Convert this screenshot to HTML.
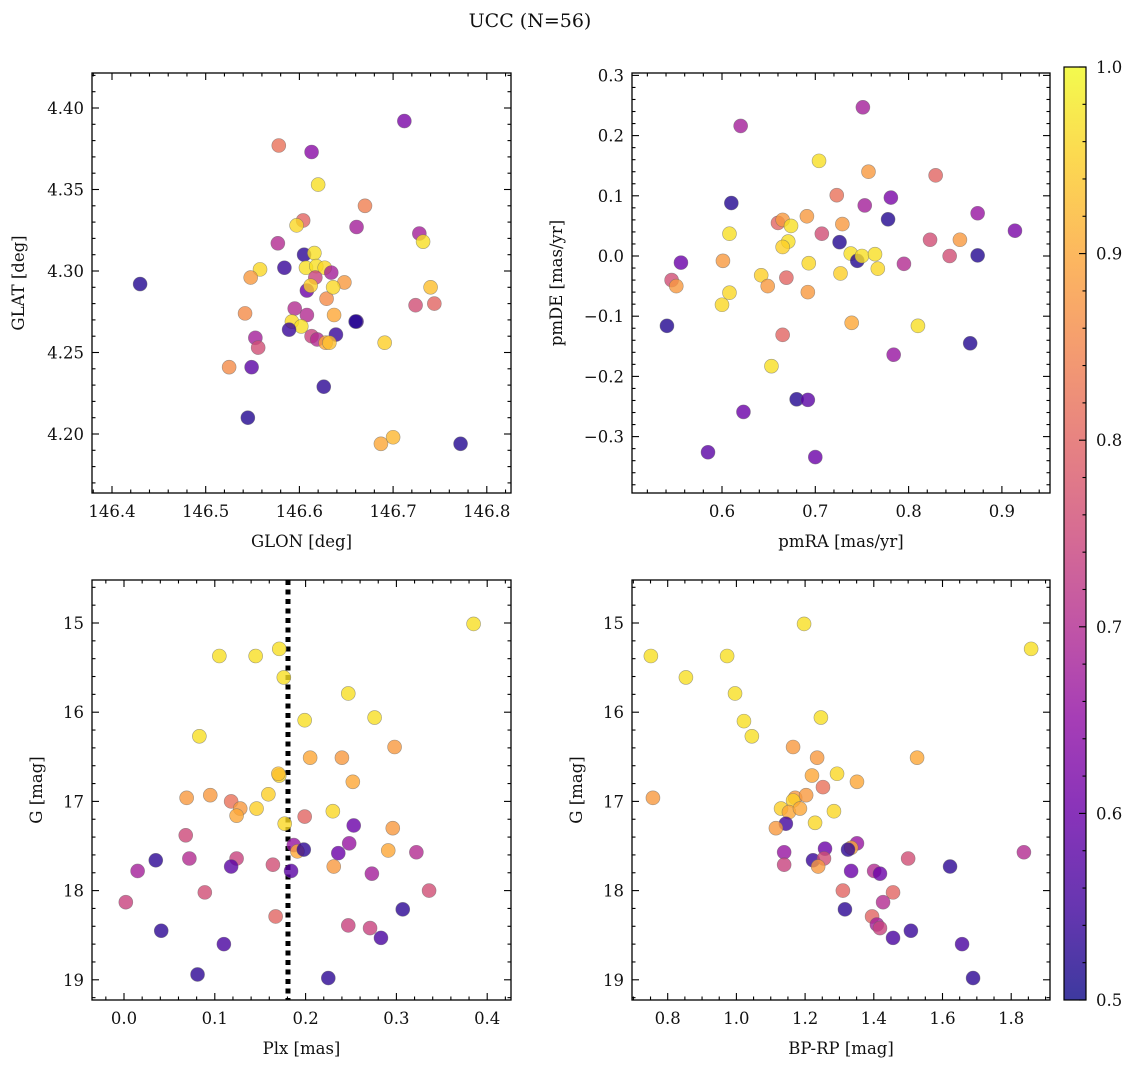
<!DOCTYPE html>
<html><head><meta charset="utf-8"><style>
body{margin:0;background:#fff;}
svg text{font-family:"DejaVu Serif","Liberation Serif",serif;fill:#111;}
</style></head><body>
<svg id="fig" width="1136" height="1067" viewBox="0 0 1136 1067" xmlns="http://www.w3.org/2000/svg">
<defs>
<linearGradient id="plasma" x1="0" y1="1" x2="0" y2="0">
<stop offset="0" stop-color="#0d0887"/><stop offset="0.1" stop-color="#41049d"/><stop offset="0.2" stop-color="#6a00a8"/><stop offset="0.3" stop-color="#8f0da4"/><stop offset="0.4" stop-color="#b12a90"/><stop offset="0.5" stop-color="#cc4778"/><stop offset="0.6" stop-color="#e16462"/><stop offset="0.7" stop-color="#f2844b"/><stop offset="0.8" stop-color="#fca636"/><stop offset="0.9" stop-color="#fcce25"/><stop offset="1" stop-color="#f0f921"/>
</linearGradient>
</defs>
<text x="530" y="27" font-size="19" text-anchor="middle">UCC (N=56)</text>
</svg>
<script>
// ---- Panel 1: GLON vs GLAT ----
const glon = [146.430,146.712,146.578,146.613,146.620,146.670,146.604,146.661,146.597,146.728,146.732,146.577,146.605,146.616,146.584,146.558,146.548,146.607,146.618,146.627,146.634,146.617,146.648,146.740,146.608,146.629,146.612,146.636,146.724,146.744,146.595,146.542,146.637,146.608,146.592,146.602,146.589,146.661,146.553,146.613,146.619,146.639,146.628,146.556,146.632,146.691,146.525,146.549,146.660,146.626,146.545,146.687,146.700,146.772];
const glat = [4.292,4.392,4.377,4.373,4.353,4.340,4.331,4.327,4.328,4.323,4.318,4.317,4.310,4.311,4.302,4.301,4.296,4.302,4.303,4.302,4.299,4.296,4.293,4.290,4.288,4.283,4.291,4.290,4.279,4.280,4.277,4.274,4.273,4.273,4.269,4.266,4.264,4.269,4.259,4.260,4.258,4.261,4.256,4.253,4.256,4.256,4.241,4.241,4.269,4.229,4.210,4.194,4.198,4.194];
const c1 = [0.52,0.62,0.82,0.64,0.97,0.84,0.8,0.68,0.96,0.68,0.97,0.7,0.53,0.97,0.54,0.96,0.88,0.97,0.97,0.96,0.68,0.74,0.88,0.93,0.6,0.86,0.95,0.96,0.76,0.8,0.7,0.86,0.9,0.7,0.96,0.97,0.54,0.55,0.68,0.74,0.7,0.54,0.9,0.76,0.93,0.95,0.86,0.58,0.52,0.53,0.52,0.9,0.92,0.52];
// ---- Panel 2: pmRA vs pmDE ----
const pmra = [0.751,0.620,0.704,0.757,0.829,0.723,0.781,0.610,0.753,0.778,0.874,0.914,0.691,0.660,0.665,0.674,0.729,0.608,0.707,0.726,0.671,0.665,0.823,0.855,0.738,0.745,0.750,0.764,0.844,0.874,0.556,0.601,0.693,0.795,0.767,0.727,0.642,0.669,0.546,0.551,0.649,0.608,0.692,0.600,0.739,0.810,0.541,0.665,0.866,0.784,0.653,0.680,0.692,0.623,0.585,0.700];
const pmde = [0.247,0.216,0.158,0.140,0.134,0.101,0.097,0.088,0.084,0.061,0.071,0.042,0.066,0.055,0.060,0.050,0.053,0.037,0.037,0.023,0.024,0.015,0.027,0.027,0.004,-0.008,0.0,0.003,0.0,0.001,-0.011,-0.008,-0.012,-0.013,-0.021,-0.029,-0.032,-0.036,-0.040,-0.050,-0.050,-0.061,-0.060,-0.081,-0.111,-0.116,-0.116,-0.131,-0.145,-0.164,-0.183,-0.238,-0.239,-0.259,-0.326,-0.334];
const c2 = [0.68,0.68,0.97,0.88,0.8,0.82,0.62,0.52,0.68,0.52,0.66,0.62,0.88,0.8,0.88,0.97,0.88,0.97,0.76,0.52,0.97,0.95,0.76,0.88,0.97,0.52,0.97,0.97,0.76,0.52,0.6,0.88,0.96,0.7,0.96,0.95,0.95,0.8,0.76,0.88,0.88,0.96,0.88,0.96,0.9,0.97,0.52,0.8,0.52,0.66,0.97,0.52,0.58,0.6,0.58,0.6];
// ---- Panel 3: Plx vs G ----
const plx = [0.385,0.105,0.145,0.171,0.176,0.247,0.276,0.199,0.083,0.298,0.240,0.205,0.171,0.170,0.252,0.069,0.095,0.118,0.199,0.159,0.146,0.128,0.124,0.230,0.177,0.253,0.296,0.068,0.187,0.191,0.198,0.248,0.291,0.322,0.236,0.124,0.072,0.035,0.118,0.164,0.231,0.015,0.184,0.273,0.089,0.336,0.002,0.307,0.167,0.247,0.271,0.041,0.283,0.110,0.081,0.225];
const g3 = [15.01,15.37,15.37,15.29,15.61,15.79,16.06,16.09,16.27,16.39,16.51,16.51,16.71,16.69,16.78,16.96,16.93,17.0,17.17,16.92,17.08,17.08,17.16,17.11,17.25,17.27,17.30,17.38,17.49,17.56,17.54,17.47,17.55,17.57,17.58,17.64,17.64,17.66,17.73,17.71,17.73,17.78,17.78,17.81,18.02,18.0,18.13,18.21,18.29,18.39,18.42,18.45,18.53,18.6,18.94,18.98];
const c3 = [0.97,0.97,0.97,0.97,0.97,0.97,0.97,0.97,0.97,0.88,0.88,0.9,0.96,0.93,0.9,0.88,0.88,0.82,0.8,0.95,0.95,0.88,0.9,0.96,0.96,0.6,0.88,0.75,0.66,0.9,0.53,0.66,0.9,0.7,0.6,0.74,0.7,0.53,0.58,0.76,0.88,0.68,0.58,0.68,0.76,0.76,0.74,0.53,0.8,0.74,0.74,0.53,0.56,0.56,0.53,0.53];
const plxLine = 0.1806;
// ---- Panel 4: BP-RP vs G ----
const bprp = [0.751,0.853,0.973,1.197,1.858,0.996,1.022,1.045,1.246,1.165,1.235,1.526,1.220,1.293,1.351,0.757,1.171,1.203,1.252,1.165,1.130,1.153,1.185,1.284,1.229,1.144,1.115,1.351,1.334,1.325,1.139,1.258,1.837,1.223,1.255,1.500,1.139,1.238,1.622,1.334,1.401,1.418,1.310,1.456,1.427,1.316,1.395,1.409,1.418,1.508,1.456,1.657,1.689];
const g4 = [15.37,15.61,15.37,15.01,15.29,15.79,16.10,16.27,16.06,16.39,16.51,16.51,16.71,16.69,16.78,16.96,16.96,16.93,16.84,16.99,17.08,17.12,17.08,17.11,17.24,17.25,17.30,17.47,17.52,17.54,17.57,17.53,17.57,17.66,17.64,17.64,17.71,17.73,17.73,17.78,17.78,17.81,18.0,18.02,18.13,18.21,18.29,18.38,18.42,18.45,18.53,18.6,18.98];
const c4 = [0.97,0.97,0.97,0.97,0.97,0.97,0.97,0.97,0.97,0.88,0.88,0.9,0.9,0.96,0.9,0.88,0.88,0.88,0.82,0.95,0.95,0.9,0.9,0.96,0.96,0.55,0.88,0.66,0.9,0.53,0.66,0.6,0.7,0.54,0.76,0.76,0.74,0.88,0.53,0.6,0.7,0.6,0.8,0.8,0.7,0.53,0.8,0.68,0.74,0.54,0.56,0.56,0.53];
const cbTicks = [0.5,0.6,0.7,0.8,0.9,1.0];

const NS='http://www.w3.org/2000/svg';
const svg=document.getElementById('fig');
function mk(tag,attrs,parent){const e=document.createElementNS(NS,tag);for(const k in attrs)e.setAttribute(k,attrs[k]);(parent||svg).appendChild(e);return e;}
const stops=[[0,[13,8,135]],[0.1,[65,4,157]],[0.2,[106,0,168]],[0.3,[143,13,164]],[0.4,[177,42,144]],[0.5,[204,71,120]],[0.6,[225,100,98]],[0.7,[242,132,75]],[0.8,[252,166,54]],[0.9,[252,206,37]],[1,[240,249,33]]];
function plasma(v){let t=Math.max(0,Math.min(1,(v-0.5)/0.5));for(let i=1;i<stops.length;i++){if(t<=stops[i][0]){const a=stops[i-1],b=stops[i];const f=(t-a[0])/(b[0]-a[0]);const c=a[1].map((x,j)=>Math.round(x+(b[1][j]-x)*f));return `rgb(${c[0]},${c[1]},${c[2]})`;}}return 'rgb(240,249,33)';}
function fmt(v,d){const s=Math.abs(v).toFixed(d);return (v< -1e-9?'\u2212':'')+s;}

function panel(o){
  const g=mk('g',{});
  
  
  const X=v=>o.x0+(v-o.xmin)/(o.xmax-o.xmin)*(o.x1-o.x0);
  const Y=v=>o.yinv? o.y0+(v-o.ymin)/(o.ymax-o.ymin)*(o.y1-o.y0) : o.y1-(v-o.ymin)/(o.ymax-o.ymin)*(o.y1-o.y0);
  if(o.vline!==undefined){
    const l=mk('line',{x1:X(o.vline),x2:X(o.vline),y1:o.y0,y2:o.y1,stroke:'#000','stroke-width':5,'stroke-dasharray':'5,4.5'},g);
    
    
  }
  for(let i=0;i<o.xs.length;i++){
    const cc=o.cs[i]!==undefined?o.cs[i]:0.8;
    const p=mk('circle',{cx:X(o.xs[i]),cy:Y(o.ys[i]),r:7,fill:plasma(cc),'fill-opacity':0.8,stroke:'#666','stroke-opacity':0.6,'stroke-width':0.6},g);
    
    
  }
  mk('rect',{x:o.x0,y:o.y0,width:o.x1-o.x0,height:o.y1-o.y0,fill:'none',stroke:'#000','stroke-width':1.3},g);
  const ax=mk('g',{},g);
  
  
  const eps=1e-9;
  const nMinX=Math.round((o.xmax-o.xmin)/o.xminor);
  for(let k=Math.ceil(o.xmin/o.xminor-eps);k*o.xminor<=o.xmax+eps;k++){
    const v=k*o.xminor;const isMaj=Math.abs(v/o.xmajor-Math.round(v/o.xmajor))<1e-6;const L=isMaj?7:3.5;const px=X(v);
    mk('line',{x1:px,x2:px,y1:o.y1,y2:o.y1-L,stroke:'#000','stroke-width':1.1},ax);
    mk('line',{x1:px,x2:px,y1:o.y0,y2:o.y0+L,stroke:'#000','stroke-width':1.1},ax);
    if(isMaj){const t=mk('text',{x:px,y:o.y1+24,'font-size':16.5,'text-anchor':'middle'},ax);t.textContent=fmt(v,o.xdec);
      }
  }
  const ay=mk('g',{},g);
  
  
  for(let k=Math.ceil(o.ymin/o.yminor-eps);k*o.yminor<=o.ymax+eps;k++){
    const v=k*o.yminor;const isMaj=Math.abs(v/o.ymajor-Math.round(v/o.ymajor))<1e-6;const L=isMaj?7:3.5;const py=Y(v);
    mk('line',{x1:o.x0,x2:o.x0+L,y1:py,y2:py,stroke:'#000','stroke-width':1.1},ay);
    mk('line',{x1:o.x1,x2:o.x1-L,y1:py,y2:py,stroke:'#000','stroke-width':1.1},ay);
    if(isMaj){const t=mk('text',{x:o.x0-8,y:py+6,'font-size':16.5,'text-anchor':'end'},ay);t.textContent=fmt(v,o.ydec);
      }
  }
  const xl=mk('text',{x:(o.x0+o.x1)/2,y:o.y1+54,'font-size':16.5,'text-anchor':'middle'},g);xl.textContent=o.xlabel;
  
  const yl=mk('text',{x:o.ylx,y:(o.y0+o.y1)/2,'font-size':16.5,'text-anchor':'middle',transform:`rotate(-90 ${o.ylx} ${(o.y0+o.y1)/2})`},g);yl.textContent=o.ylabel;
  
}
panel({name:'glon-glat-panel',x0:92,x1:511,y0:73,y1:493,xmin:146.4-20/93.7*0.1,xmax:146.4+399/937,ymin:4.40-385/1630,ymax:4.40+35/1630,xmajor:0.1,xminor:0.02,ymajor:0.05,yminor:0.01,xdec:1,ydec:2,xs:glon,ys:glat,cs:c1,xlabel:'GLON [deg]',ylabel:'GLAT [deg]',ylx:24});
panel({name:'pm-panel',x0:632,x1:1050,y0:73,y1:493,xmin:0.6-90/933,xmax:0.6+328/933,ymin:-237/602,ymax:183/602,xmajor:0.1,xminor:0.02,ymajor:0.1,yminor:0.02,xdec:1,ydec:1,xs:pmra,ys:pmde,cs:c2,xlabel:'pmRA [mas/yr]',ylabel:'pmDE [mas/yr]',ylx:562});
panel({name:'plx-g-panel',x0:92,x1:511,y0:580,y1:1000,xmin:-32/908,xmax:387/908,ymin:15-43/89.2,ymax:15+377/89.2,yinv:true,xmajor:0.1,xminor:0.02,ymajor:1,yminor:0.2,xdec:1,ydec:0,xs:plx,ys:g3,cs:c3,vline:plxLine,xlabel:'Plx [mas]',ylabel:'G [mag]',ylx:42});
panel({name:'cmd-panel',x0:632,x1:1050,y0:580,y1:1000,xmin:0.8-35.7/343.5,xmax:0.8+382.3/343.5,ymin:15-43/89.2,ymax:15+377/89.2,yinv:true,xmajor:0.2,xminor:0.05,ymajor:1,yminor:0.2,xdec:1,ydec:0,xs:bprp,ys:g4,cs:c4,xlabel:'BP-RP [mag]',ylabel:'G [mag]',ylx:582});

// colorbar
const cb=mk('g',{});


const cy0=67,cy1=1000,cx0=1064,cx1=1086;
mk('rect',{x:cx0,y:cy0,width:cx1-cx0,height:cy1-cy0,fill:'url(#plasma)','fill-opacity':0.8},cb);
mk('rect',{x:cx0,y:cy0,width:cx1-cx0,height:cy1-cy0,fill:'none',stroke:'#000','stroke-width':1.2},cb);
const CY=v=>cy1-(v-0.5)/0.5*(cy1-cy0);
for(let k=25;k<=50;k++){const v=k*0.02;const py=CY(v);const maj=k%5===0;
  mk('line',{x1:cx1,x2:cx1-(maj?7:3.5),y1:py,y2:py,stroke:'#000','stroke-width':1.1},cb);}
cbTicks.forEach(v=>{const t=mk('text',{x:cx1+10,y:CY(v)+6,'font-size':16.5},cb);t.textContent=v.toFixed(1);
  });
</script>
</body></html>
